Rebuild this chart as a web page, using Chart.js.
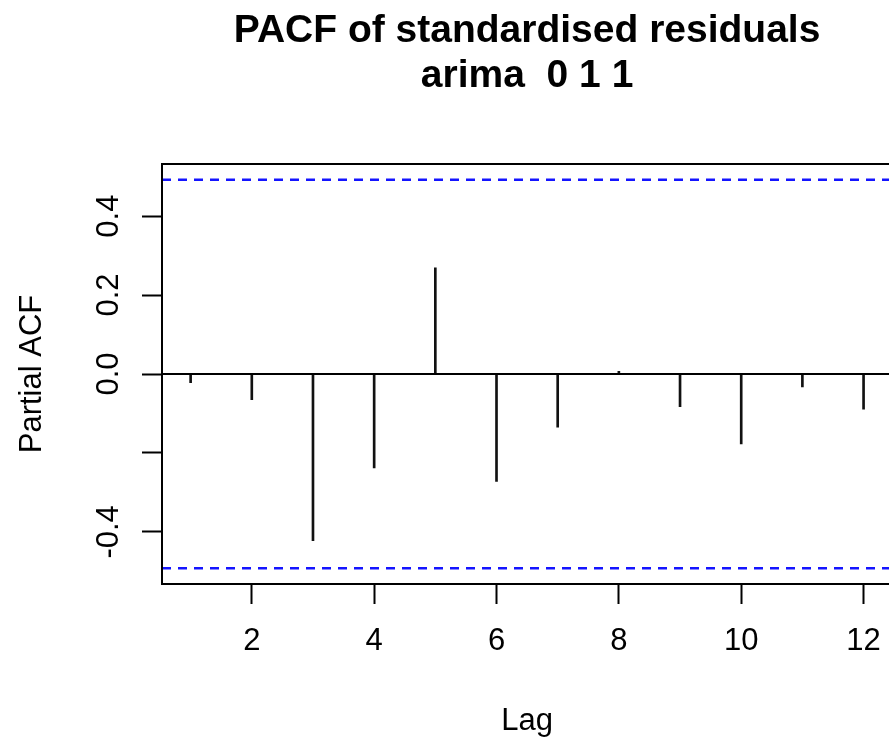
<!DOCTYPE html>
<html>
<head>
<meta charset="utf-8">
<script src="https://cdn.jsdelivr.net/npm/chart.js@4/dist/chart.umd.min.js"></script>
<style>
  html, body { margin: 0; padding: 0; background: #fff; overflow: hidden; }
  #wrap { width: 900px; height: 743px; }
</style>
</head>
<body>
<div id="wrap"><canvas id="pacf" width="900" height="743"></canvas></div>
<script>
// partial autocorrelations of the standardised residuals, lags 1..12
const lags = [1, 2, 3, 4, 5, 6, 7, 8, 9, 10, 11, 12];
const pacfValues = [-0.022, -0.065, -0.422, -0.238, 0.269, -0.272, -0.135, 0.007, -0.083, -0.177, -0.033, -0.089];
const ciBound = 0.492;

const xTicks = [2, 4, 6, 8, 10, 12];
const yTicks = [-0.4, -0.2, 0, 0.2, 0.4];
const yTickLabels = ["-0.4", "", "0.0", "0.2", "0.4"];

const titleLines = ["PACF of standardised residuals", "arima  0 1 1"];
const xTitle = "Lag";
const yTitle = "Partial ACF";

const xMin = 0.532, xMax = 12.468;
const yMin = -0.532, yMax = 0.532;

const FONT = '"Liberation Sans", Arial, sans-serif';

// box, titles and rotated y labels, drawn like base R graphics
const rFrame = {
  id: "rFrame",
  afterDraw(chart) {
    const ctx = chart.ctx;
    const a = chart.chartArea;
    const cx = (a.left + a.right) / 2;

    ctx.save();
    ctx.strokeStyle = "#000";
    ctx.lineWidth = 2;
    ctx.strokeRect(a.left, a.top, a.right - a.left, a.bottom - a.top);

    ctx.fillStyle = "#000";
    ctx.textAlign = "center";
    ctx.textBaseline = "alphabetic";
    ctx.font = "bold 39px " + FONT;
    ctx.fillText(titleLines[0], cx, 42);
    ctx.fillText(titleLines[1], cx, 87);

    ctx.font = "31px " + FONT;
    ctx.fillText(xTitle, cx, 730);

    const ys = chart.scales.y;
    yTicks.forEach((v, i) => {
      if (!yTickLabels[i]) return;
      ctx.save();
      ctx.translate(a.left - 44, ys.getPixelForValue(v));
      ctx.rotate(-Math.PI / 2);
      ctx.fillText(yTickLabels[i], 0, 0);
      ctx.restore();
    });

    ctx.save();
    ctx.translate(41, (a.top + a.bottom) / 2);
    ctx.rotate(-Math.PI / 2);
    ctx.fillText(yTitle, 0, 0);
    ctx.restore();
    ctx.restore();
  }
};

const spikes = lags.map((l, i) => ({ x: l, y: pacfValues[i] }));

new Chart(document.getElementById("pacf"), {
  type: "bar",
  data: {
    datasets: [
      {
        type: "line",
        data: [{ x: xMin, y: 0 }, { x: xMax, y: 0 }],
        borderColor: "#000",
        borderWidth: 2,
        pointRadius: 0
      },
      {
        type: "line",
        data: [{ x: xMin, y: ciBound }, { x: xMax, y: ciBound }],
        borderColor: "#1414ff",
        borderWidth: 2.5,
        borderDash: [9, 7],
        pointRadius: 0
      },
      {
        type: "line",
        data: [{ x: xMin, y: -ciBound }, { x: xMax, y: -ciBound }],
        borderColor: "#1414ff",
        borderWidth: 2.5,
        borderDash: [9, 7],
        pointRadius: 0
      },
      {
        type: "bar",
        data: spikes,
        backgroundColor: "#111",
        borderWidth: 0,
        barThickness: 2
      }
    ]
  },
  options: {
    responsive: false,
    animation: false,
    layout: { padding: { left: 0, top: 164, right: 5, bottom: 0 } },
    plugins: {
      legend: { display: false },
      title: { display: false },
      tooltip: { enabled: false }
    },
    scales: {
      x: {
        type: "linear",
        min: xMin,
        max: xMax,
        offset: false,
        afterBuildTicks: (s) => { s.ticks = xTicks.map(v => ({ value: v })); },
        afterFit: (s) => { s.height = 159; },
        grid: { offset: false, drawOnChartArea: false, drawTicks: true, tickLength: 20, tickColor: "#000", tickWidth: 2 },
        border: { display: true, color: "#000", width: 2 },
        ticks: {
          color: "#000",
          font: { family: FONT, size: 31 },
          padding: 19,
          maxRotation: 0,
          autoSkip: false
        }
      },
      y: {
        type: "linear",
        min: yMin,
        max: yMax,
        afterBuildTicks: (s) => { s.ticks = yTicks.map(v => ({ value: v })); },
        afterFit: (s) => { s.width = 162; },
        grid: { drawOnChartArea: false, drawTicks: true, tickLength: 20, tickColor: "#000", tickWidth: 2 },
        border: { display: true, color: "#000", width: 2 },
        ticks: { display: false }
      }
    }
  },
  plugins: [rFrame]
});
</script>
</body>
</html>
